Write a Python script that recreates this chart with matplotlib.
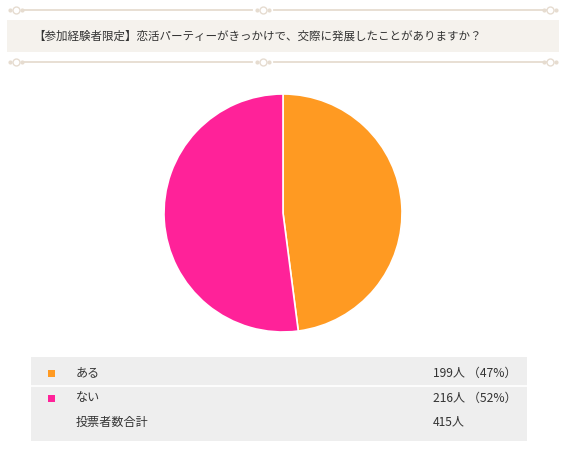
import matplotlib
matplotlib.use("Agg")
import matplotlib.pyplot as plt
from matplotlib.patches import Rectangle

plt.rcParams['font.family'] = ['Noto Sans CJK JP', 'DejaVu Sans']

title = "【参加経験者限定】恋活パーティーがきっかけで、交際に発展したことがありますか？"
labels = ["ある", "ない"]
counts = [199, 216]
percents = [47, 52]
colors = ["#FF9A22", "#FF2299"]
total_label = "投票者数合計"

W, H = 571, 451
fig = plt.figure(figsize=(W / 100, H / 100), dpi=100)

# background axes in pixel coordinates
bg = fig.add_axes([0, 0, 1, 1])
bg.set_xlim(0, W)
bg.set_ylim(H, 0)
bg.axis("off")

orn = "#E6DCD0"
for y in (10, 62):
    bg.plot([24, 252], [y, y], color=orn, lw=1.3)
    bg.plot([274, 546], [y, y], color=orn, lw=1.3)
    for x in (16, 263, 550):
        bg.plot([x - 6, x + 6], [y, y], color=orn, lw=0, marker="o", ms=2)
        bg.plot([x], [y], marker="o", ms=5, mfc="none", mec=orn, mew=1)

bg.add_patch(Rectangle((7, 20), 552, 32, facecolor="#F5F2ED", edgecolor="none"))
bg.text(33, 36, title, fontsize=8.3, color="#333333", va="center", ha="left")

# table
bg.add_patch(Rectangle((31, 357), 496, 84, facecolor="#EEEEEE", edgecolor="none"))
bg.plot([31, 527], [385.5, 385.5], color="white", lw=1.2)
row_y = [373, 398, 422]
for i, lab in enumerate(labels):
    bg.add_patch(Rectangle((48, row_y[i] - 3.5), 7, 7, facecolor=colors[i], edgecolor="none"))
    bg.text(76, row_y[i], lab, fontsize=8.7, color="#333333", va="center")
    bg.text(433, row_y[i], f"{counts[i]}人 （{percents[i]}%）", fontsize=8.7,
            color="#333333", va="center")
bg.text(76, row_y[2], total_label, fontsize=8.7, color="#333333", va="center")
bg.text(433, row_y[2], f"{sum(counts)}人", fontsize=8.7, color="#333333", va="center")

# pie
cx, cy, r = 283, 213, 119
ax = fig.add_axes([(cx - r) / W, (H - cy - r) / H, 2 * r / W, 2 * r / H])
ax.pie(counts, colors=colors, startangle=90, counterclock=False,
       wedgeprops=dict(edgecolor="white", linewidth=1.2))
ax.set_xlim(-1, 1)
ax.set_ylim(-1, 1)
ax.set_aspect("equal")
ax.axis("off")

fig.savefig("out.png", dpi=100)
